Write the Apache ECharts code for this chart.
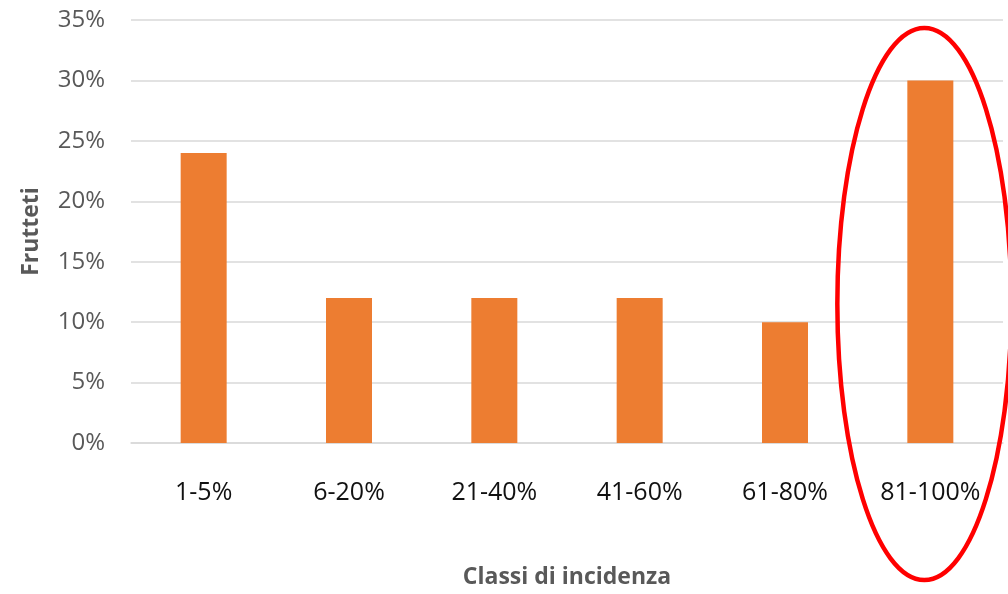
<!DOCTYPE html>
<html>
<head>
<meta charset="utf-8">
<script src="https://cdn.jsdelivr.net/npm/echarts@6/dist/echarts.min.js"></script>
<style>
html,body{margin:0;padding:0;background:#fff;}
#c{width:1008px;height:594px;}
</style>
</head>
<body>
<div id="c"></div>
<script>
var categories = ['1-5%', '6-20%', '21-40%', '41-60%', '61-80%', '81-100%'];
var values = [24, 12, 12, 12, 10, 30];
var yTicks = [0, 5, 10, 15, 20, 25, 30, 35];
var xName = 'Classi di incidenza';
var yName = 'Frutteti';

var chart = echarts.init(document.getElementById('c'));
chart.setOption({
  animation: false,
  backgroundColor: '#ffffff',
  grid: { left: 131, right: 5, top: 20, bottom: 151, containLabel: false },
  xAxis: {
    type: 'category',
    data: categories,
    axisLine: { show: true, lineStyle: { color: '#d9d9d9', width: 1.5 } },
    axisTick: { show: false },
    axisLabel: { color: '#111111', fontFamily: 'Open Sans', fontSize: 25, margin: 37 },
    name: xName,
    nameLocation: 'middle',
    nameGap: 123,
    nameTextStyle: { color: '#595959', fontFamily: 'Open Sans', fontWeight: 'bold', fontSize: 23 }
  },
  yAxis: {
    type: 'value',
    min: yTicks[0],
    max: yTicks[yTicks.length - 1],
    interval: 5,
    axisLine: { show: false },
    axisTick: { show: false },
    axisLabel: { color: '#595959', fontFamily: 'Open Sans', fontSize: 24, margin: 26, formatter: '{value}%' },
    splitLine: { lineStyle: { color: '#d9d9d9', width: 1.5 } },
    name: yName,
    nameLocation: 'middle',
    nameGap: 88,
    nameTextStyle: { color: '#595959', fontFamily: 'Open Sans', fontWeight: 'bold', fontSize: 23 }
  },
  series: [{
    type: 'bar',
    data: values,
    barWidth: 46,
    itemStyle: { color: '#ED7D31' }
  }]
});

var last = categories[categories.length - 1];
var cx = chart.convertToPixel({ xAxisIndex: 0 }, last) - 6;
chart.setOption({
  graphic: [{
    type: 'ellipse',
    shape: { cx: cx, cy: 304, rx: 87, ry: 276 },
    style: { fill: null, stroke: '#ff0000', lineWidth: 4.5 },
    z: 100
  }]
});
</script>
</body>
</html>
